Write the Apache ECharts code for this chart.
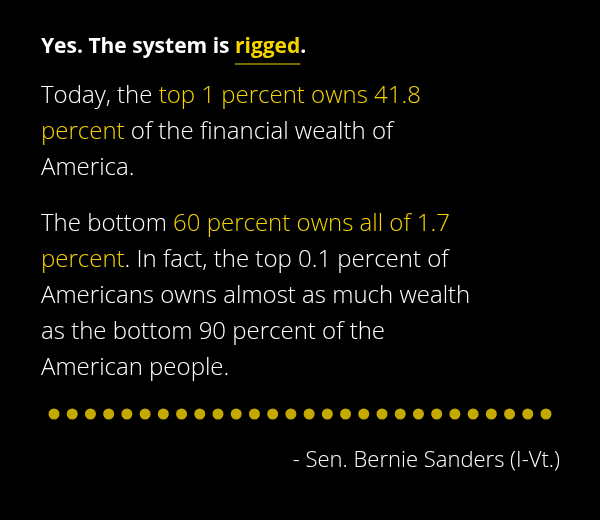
<!DOCTYPE html>
<html><head><meta charset="utf-8">
<script src="https://cdn.jsdelivr.net/npm/echarts@6/dist/echarts.min.js"></script>
<style>html,body{margin:0;background:#000}#c{width:600px;height:520px}</style>
</head><body><div id="c"></div>
<script>
const dotPositions = [0,1,2,3,4,5,6,7,8,9,10,11,12,13,14,15,16,17,18,19,20,21,22,23,24,25,26,27];
const titleParts = [["Yes. The system is ","w"],["rigged","y"],[".","w"]];
const bodyLines = [
  [["Today, the ","w"],["top 1 percent owns 41.8","y"]],
  [["percent","y"],[" of the financial wealth of","w"]],
  [["America.","w"]],
  [["The bottom ","w"],["60 percent owns all of 1.7","y"]],
  [["percent","y"],[". In fact, the top 0.1 percent of","w"]],
  [["Americans owns almost as much wealth","w"]],
  [["as the bottom 90 percent of the","w"]],
  [["American people.","w"]]
];
const lineY = [100,136,172,228,264,300,336,372];
const attribution = "- Sen. Bernie Sanders (I-Vt.)";
const Y = "#f5d400", W = "#ffffff";
const FF = "Open Sans";
function rt(parts){return parts.map(p=>"{"+p[1]+"|"+p[0]+"}").join("");}
const bodyRich = {w:{fill:W,fontSize:24,fontFamily:FF,fontWeight:300},y:{fill:Y,fontSize:24,fontFamily:FF,fontWeight:300}};
const titleFont = "bold 21px '" + FF + "'";
const ctx = document.createElement("canvas").getContext("2d");
ctx.font = titleFont;
const ux1 = 41 + ctx.measureText(titleParts[0][0]).width;
const ux2 = ux1 + ctx.measureText(titleParts[1][0]).width;
const graphics = [
  {type:"text",left:41,top:37,style:{text:rt(titleParts),rich:{w:{fill:W,fontSize:21,fontWeight:"bold",fontFamily:FF},y:{fill:Y,fontSize:21,fontWeight:"bold",fontFamily:FF}}}},
  {type:"line",shape:{x1:ux1,y1:64,x2:ux2,y2:64},style:{stroke:Y,lineWidth:1}}
];
bodyLines.forEach((l,i)=>graphics.push({type:"text",left:41,top:lineY[i]-16,style:{text:rt(l),rich:bodyRich}}));
graphics.push({type:"text",right:40,top:450,style:{text:attribution,fill:W,fontSize:22,fontFamily:FF,fontWeight:300}});
const chart = echarts.init(document.getElementById("c"));
chart.setOption({
  backgroundColor:"#000",
  animation:false,
  grid:{left:54,right:54,top:404,height:20},
  xAxis:{type:"value",min:0,max:27,show:false},
  yAxis:{type:"value",min:-1,max:1,show:false},
  series:[{type:"scatter",symbolSize:11,itemStyle:{color:Y},data:dotPositions.map(x=>[x,0])}],
  graphic:graphics
});
</script></body></html>
